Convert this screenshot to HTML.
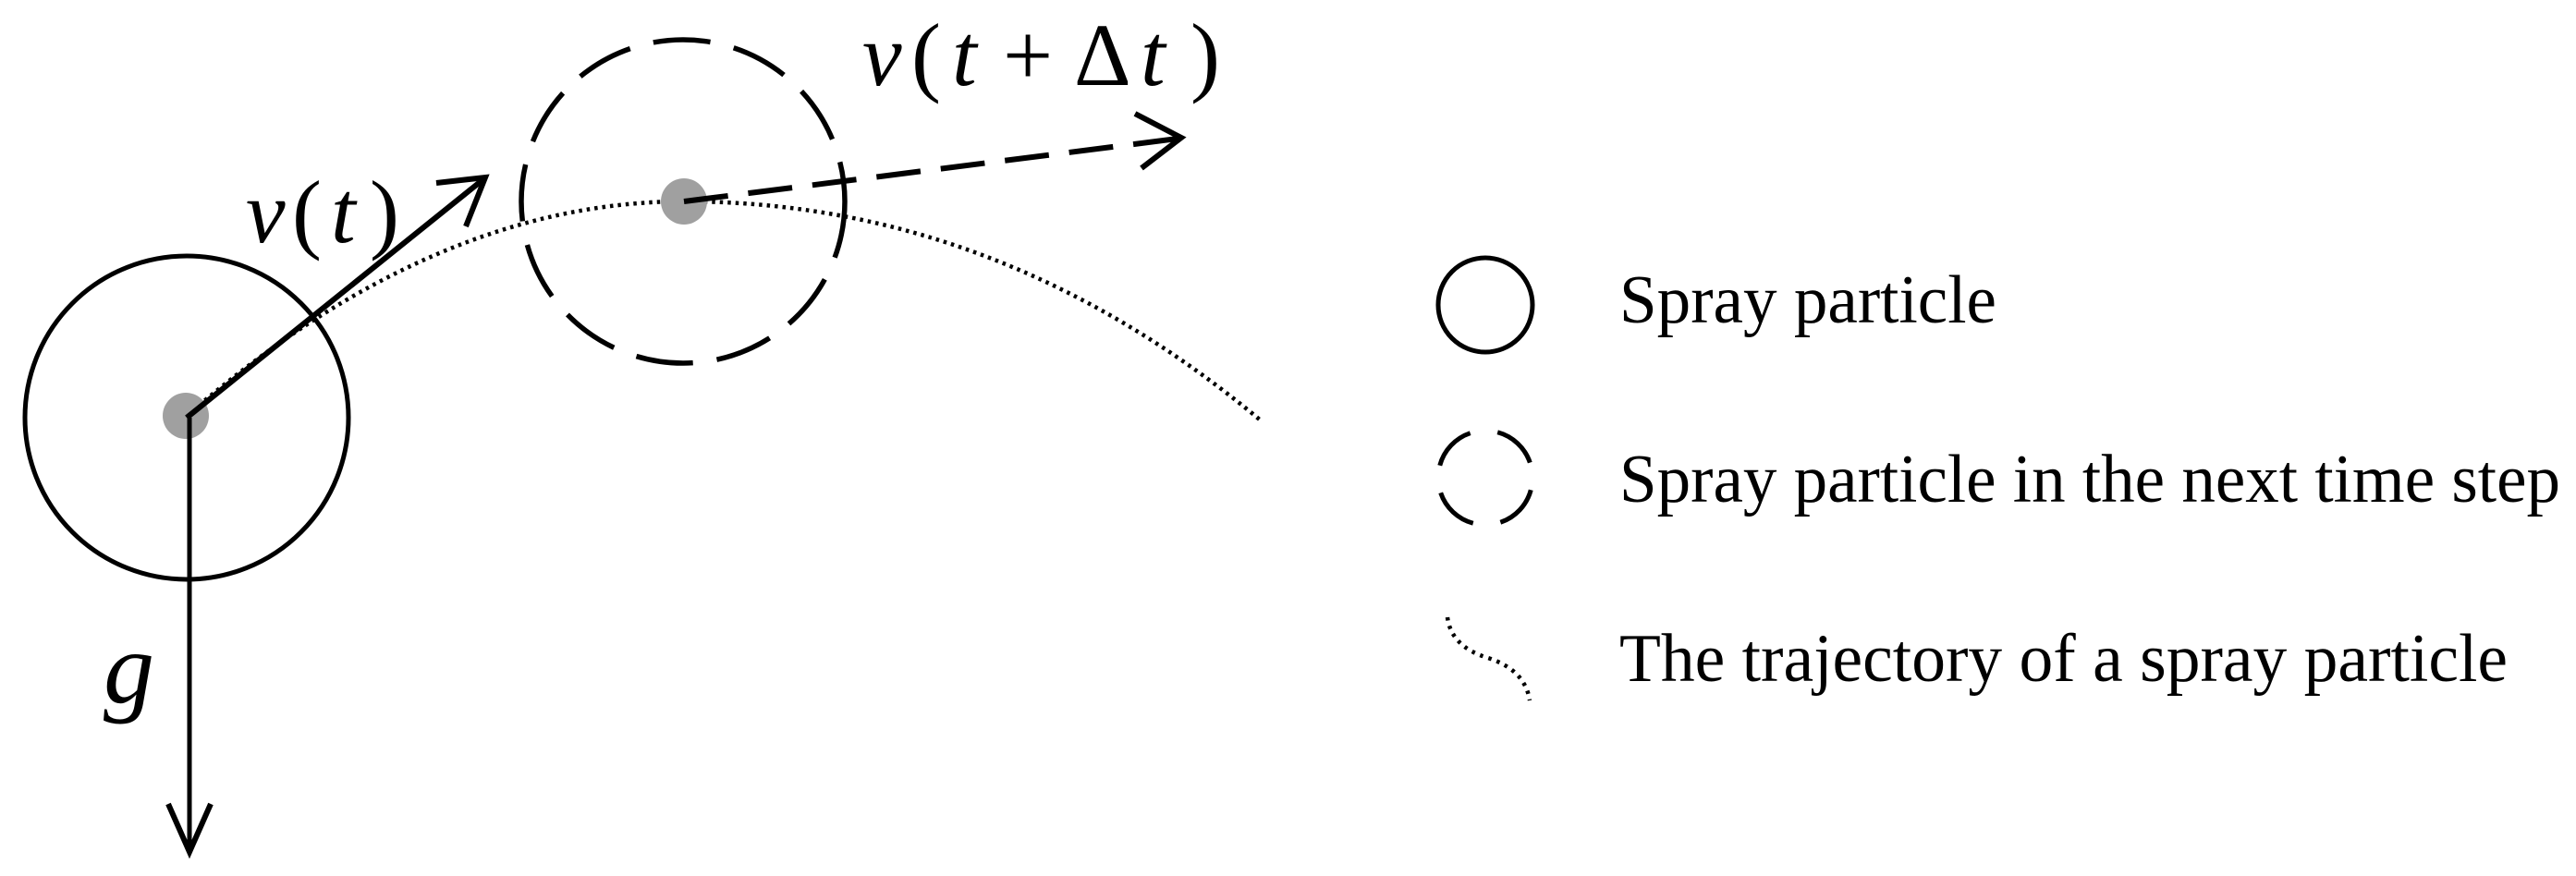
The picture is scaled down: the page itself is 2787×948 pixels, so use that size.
<!DOCTYPE html>
<html><head><meta charset="utf-8"><style>
html,body{margin:0;padding:0;background:#fff;}
svg{display:block;}
text{font-family:"Liberation Serif",serif;fill:#000;}
</style></head><body>
<svg width="2787" height="948" viewBox="0 0 2787 948" xmlns="http://www.w3.org/2000/svg">
<circle cx="202" cy="452" r="175" fill="none" stroke="#000" stroke-width="5"/>
<circle cx="739" cy="218" r="175" fill="none" stroke="#000" stroke-width="5.5" stroke-dasharray="62,26"/>
<path d="M202,450 Q470,218 740,218 Q1080,218 1364,455" fill="none" stroke="#000" stroke-width="4.5" stroke-dasharray="3.5,5"/>
<circle cx="201" cy="450" r="25" fill="#a0a0a0"/>
<circle cx="740" cy="218" r="25" fill="#a0a0a0"/>
<line x1="202" y1="452" x2="523" y2="194" stroke="#000" stroke-width="6"/>
<polyline points="472,198 525,192 504,245" fill="none" stroke="#000" stroke-width="6"/>
<line x1="205" y1="452" x2="205" y2="920" stroke="#000" stroke-width="5"/>
<polyline points="182,870 205,922 228,870" fill="none" stroke="#000" stroke-width="6"/>
<line x1="740" y1="218" x2="1274" y2="150" stroke="#000" stroke-width="6" stroke-dasharray="48,22"/>
<polyline points="1228,123 1278,149 1235,182" fill="none" stroke="#000" stroke-width="6"/>
<text x="266" y="262" font-size="96" font-style="italic">v</text>
<text x="316" y="262" font-size="96">(</text>
<text x="358" y="262" font-size="96" font-style="italic">t</text>
<text x="400" y="262" font-size="96">)</text>
<text x="933" y="92" font-size="96" font-style="italic">v</text>
<text x="986" y="92" font-size="96">(</text>
<text x="1030" y="92" font-size="96" font-style="italic">t</text>
<text x="1085" y="92" font-size="96">+</text>
<text x="1162" y="92" font-size="96">Δ</text>
<text x="1234" y="92" font-size="96" font-style="italic">t</text>
<text x="1288" y="92" font-size="96">)</text>
<text x="112" y="760" font-size="110" font-style="italic">g</text>
<circle cx="1607" cy="330" r="51" fill="none" stroke="#000" stroke-width="5"/>
<circle cx="1607" cy="517" r="51" fill="none" stroke="#000" stroke-width="5" stroke-dasharray="50,30" transform="rotate(-75 1607 517)"/>
<path d="M1566,668 Q1570,700 1610,712 Q1650,725 1655,758" fill="none" stroke="#000" stroke-width="4.5" stroke-dasharray="3.5,6"/>
<text x="1752" y="349" font-size="74" textLength="408" lengthAdjust="spacingAndGlyphs">Spray particle</text>
<text x="1752" y="543" font-size="74" textLength="1018" lengthAdjust="spacingAndGlyphs">Spray particle in the next time step</text>
<text x="1752" y="737" font-size="74" textLength="961" lengthAdjust="spacingAndGlyphs">The trajectory of a spray particle</text>
</svg>
</body></html>
